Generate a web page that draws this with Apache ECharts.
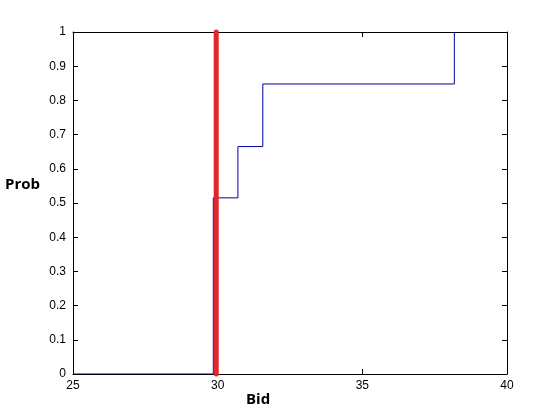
<!DOCTYPE html>
<html><head><meta charset="utf-8">
<script src="https://cdn.jsdelivr.net/npm/echarts@6/dist/echarts.min.js"></script>
<style>html,body{margin:0;padding:0;background:#fff}#c{width:560px;height:420px}</style>
</head><body><div id="c"></div>
<script>
const xTicks = [25, 30, 35, 40];
const yTicks = [0, 0.1, 0.2, 0.3, 0.4, 0.5, 0.6, 0.7, 0.8, 0.9, 1];
const stepX = [25, 29.85, 30.7, 31.56, 38.18];
const stepY = [0, 0.515, 0.665, 0.848, 1];
const bidX = 29.95;
const bidY = [0, 1];

const chart = echarts.init(document.getElementById('c'), null, {renderer: 'canvas'});
const lbl = {color: '#000', fontFamily: 'Liberation Sans, Arial, sans-serif', fontSize: 12};
const axisCommon = {
  axisLine: {show: true, onZero: false, lineStyle: {color: '#000', width: 1}},
  axisTick: {show: true, inside: true, length: 5, lineStyle: {color: '#000'}},
  splitLine: {show: false}
};
chart.setOption({
  animation: false,
  grid: {left: 73, right: 53, top: 32, bottom: 46},
  xAxis: [
    Object.assign({type: 'value', min: xTicks[0], max: xTicks[xTicks.length - 1], interval: 5, position: 'bottom',
      axisLabel: Object.assign({margin: 6}, lbl)}, axisCommon),
    Object.assign({type: 'value', min: xTicks[0], max: xTicks[xTicks.length - 1], interval: 5, position: 'top',
      axisLabel: {show: false}}, axisCommon)
  ],
  yAxis: [
    Object.assign({type: 'value', min: yTicks[0], max: yTicks[yTicks.length - 1], interval: 0.1, position: 'left',
      axisLabel: Object.assign({margin: 7, formatter: v => String(+v.toFixed(1))}, lbl)}, axisCommon),
    Object.assign({type: 'value', min: yTicks[0], max: yTicks[yTicks.length - 1], interval: 0.1, position: 'right',
      axisLabel: {show: false}}, axisCommon)
  ],
  graphic: [
    {type: 'text', left: 5, top: 177, style: {text: 'Prob', fill: '#000', font: 'bold 15px "Open Sans", "DejaVu Sans", sans-serif'}},
    {type: 'text', left: 246, top: 392, style: {text: 'Bid', fill: '#000', font: 'bold 15px "Open Sans", "DejaVu Sans", sans-serif'}}
  ],
  series: [
    {type: 'line', step: 'end', symbol: 'none', data: stepX.map((x, i) => [x, stepY[i]]),
      lineStyle: {color: '#0000a0', width: 1}},
    {type: 'line', symbol: 'none', clip: false, data: bidY.map(y => [bidX, y]),
      lineStyle: {color: '#e3262e', width: 5, cap: 'round'}}
  ]
});
</script></body></html>
